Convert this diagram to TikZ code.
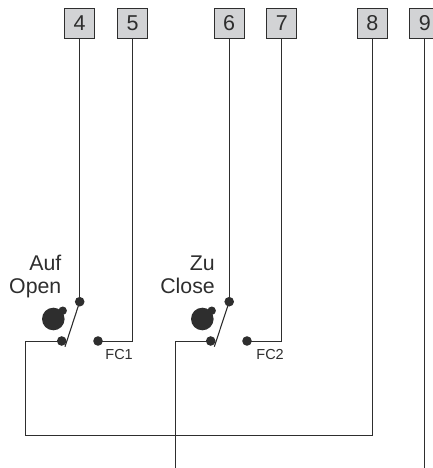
\documentclass[tikz,border=0pt]{standalone}
\usepackage{fontspec}
\setmainfont{Liberation Sans}
\definecolor{ink}{HTML}{2E2E2E}
\definecolor{boxgrey}{HTML}{D2D3D5}
\tikzset{
  terminal/.style={draw=ink,fill=boxgrey,line width=1.1pt,minimum size=30pt,inner sep=0pt,font=\fontsize{21.5}{22}\selectfont,text=ink},
  contact/.style={circle,fill=ink,minimum size=9.6pt,inner sep=0pt},
  wire/.style={draw=ink,line width=1pt},
  blade/.style={draw=ink,line width=1.1pt},
  lab/.style={anchor=base east,inner sep=0pt,text=ink,font=\fontsize{21.3}{22}\selectfont},
  fclab/.style={anchor=base east,inner sep=0pt,text=ink,font=\fontsize{14.5}{15}\selectfont}
}
\begin{document}
\begin{tikzpicture}[x=1pt,y=-1pt]
\useasboundingbox (0,0) rectangle (433,468);
\clip (0,0) rectangle (433,468);
% terminals
\node[terminal] (t4) at (79.7,23.3) {4};
\node[terminal] (t5) at (132.6,23.3) {5};
\node[terminal] (t6) at (229.2,23.3) {6};
\node[terminal] (t7) at (281.8,23.3) {7};
\node[terminal] (t8) at (372.3,23.3) {8};
\node[terminal] (t9) at (424.8,23.3) {9};
% contacts
\node[contact] (a1) at (79.7,301.7) {};
\node[contact] (b1) at (61.7,341) {};
\node[contact] (c1) at (98,341) {};
\node[contact] (a2) at (229.2,301.7) {};
\node[contact] (b2) at (210.7,341) {};
\node[contact] (c2) at (247,341) {};
% cams
\fill[ink] (53.3,319) circle (11.3);
\fill[ink] (62.7,310.7) circle (4.2);
\fill[ink] (202.3,319) circle (11.3);
\fill[ink] (211.7,310.7) circle (4.2);
% free ends
\coordinate (e1) at (65,346.7);
\coordinate (e2) at (214.3,346.7);
\coordinate (l1) at (25,341);
\coordinate (l2) at (175,341);
\coordinate (low) at (25,435.5);
\coordinate (bot2) at (175,468);
\coordinate (bot9) at (424.8,468);
% wires
\draw[wire] (t4.south) -- (a1.center);
\draw[wire] (t6.south) -- (a2.center);
\draw[wire] (t5.south) |- (c1.center);
\draw[wire] (t7.south) |- (c2.center);
\draw[wire] (b1.center) -- (l1) -- (low) -| (t8.south);
\draw[wire] (b2.center) -- (l2) -- (bot2);
\draw[wire] (t9.south) -- (bot9);
% blades
\draw[blade] (a1.center) -- (e1);
\draw[blade] (a2.center) -- (e2);
% labels
\node[lab] (n1) at (61.5,270.5) {Auf};
\node[lab] (n2) at (61.5,293) {Open};
\node[lab] (n3) at (215,270.5) {Zu};
\node[lab] (n4) at (215,293) {Close};
\node[fclab] (n5) at (133,359.5) {FC1};
\node[fclab] (n6) at (284,359.5) {FC2};
\end{tikzpicture}
\end{document}
